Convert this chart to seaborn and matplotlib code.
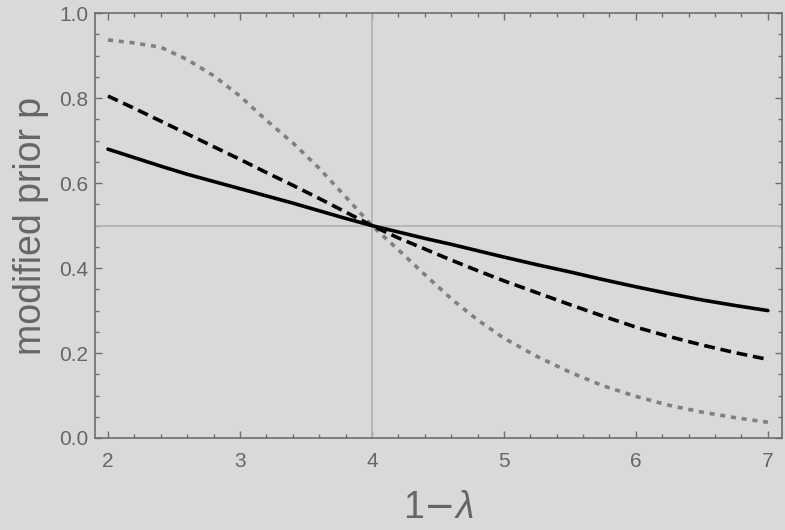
import numpy as np
import pandas as pd
import matplotlib
matplotlib.use("Agg")
import matplotlib.pyplot as plt
from matplotlib.ticker import MultipleLocator
import seaborn as sns

# 曲線數據
x_vals = [2.0, 2.2, 2.4, 2.6, 2.8, 3.0, 3.2, 3.4, 3.6, 3.8, 4.0, 4.2, 4.4, 4.6,
          4.8, 5.0, 5.25, 5.5, 5.75, 6.0, 6.25, 6.5, 6.75, 7.0]
p_solid = [0.680, 0.660, 0.640, 0.621, 0.604, 0.587, 0.570, 0.553, 0.535, 0.517,
           0.500, 0.485, 0.470, 0.456, 0.441, 0.426, 0.408, 0.391, 0.373, 0.356,
           0.340, 0.325, 0.312, 0.300]
p_dashed = [0.805, 0.776, 0.746, 0.716, 0.686, 0.656, 0.625, 0.595, 0.564, 0.532,
            0.500, 0.471, 0.445, 0.419, 0.394, 0.370, 0.342, 0.314, 0.287, 0.261,
            0.239, 0.219, 0.201, 0.185]
p_dotted = [0.937, 0.930, 0.920, 0.891, 0.853, 0.805, 0.748, 0.695, 0.635, 0.568,
            0.500, 0.443, 0.385, 0.328, 0.278, 0.235, 0.192, 0.155, 0.123, 0.098,
            0.077, 0.061, 0.048, 0.037]

df = pd.DataFrame({'x': x_vals, 'solid': p_solid, 'dashed': p_dashed, 'dotted': p_dotted})

bg = '#d9d9d9'
frame = '#6e6e6e'
txt = '#666666'

sns.set_theme(style='ticks')
plt.rcParams['font.family'] = ['Liberation Sans', 'DejaVu Sans']
plt.rcParams['mathtext.fontset'] = 'custom'
plt.rcParams['mathtext.it'] = 'Liberation Sans:italic'

fig = plt.figure(figsize=(7.85, 5.30), dpi=100, facecolor=bg)
ax = fig.add_axes([0.121, 0.1736, 0.875, 0.8014])
ax.set_facecolor(bg)

# 參考線
ax.axvline(4, color='#b4b4b4', lw=1.3, zorder=1)
ax.axhline(0.5, color='#b4b4b4', lw=1.3, zorder=1)

sns.lineplot(data=df, x='x', y='dotted', ax=ax, color='#808080', lw=2.6,
             linestyle=(0, (1.4, 1.6)), dash_capstyle='butt', zorder=3)
sns.lineplot(data=df, x='x', y='dashed', ax=ax, color='black', lw=2.6,
             linestyle=(0, (3.0, 1.6)), dash_capstyle='butt', zorder=4)
sns.lineplot(data=df, x='x', y='solid', ax=ax, color='black', lw=2.6, zorder=5)

ax.set_xlim(1.9015, 7.106)
ax.set_ylim(0, 1)
ax.xaxis.set_major_locator(MultipleLocator(1))
ax.xaxis.set_minor_locator(MultipleLocator(0.2))
ax.yaxis.set_major_locator(MultipleLocator(0.2))
ax.yaxis.set_minor_locator(MultipleLocator(0.05))
ax.yaxis.set_major_formatter(matplotlib.ticker.FormatStrFormatter('%.1f'))

for s in ax.spines.values():
    s.set_color(frame)
    s.set_linewidth(1.2)
ax.tick_params(which='both', direction='in', top=True, right=True,
               color=frame, labelcolor=txt, labelsize=15)
ax.tick_params(which='major', length=5, width=1)
ax.tick_params(which='minor', length=3, width=1)
ax.tick_params(axis='x', pad=10)
ax.tick_params(axis='y', pad=5)

ax.set_xlabel(r'1$-\mathit{\lambda}$', fontsize=27, color=txt, labelpad=14)
ax.set_ylabel('modified prior p', fontsize=27, color=txt, labelpad=7)

fig.savefig('out.png', dpi=100, facecolor=bg)
